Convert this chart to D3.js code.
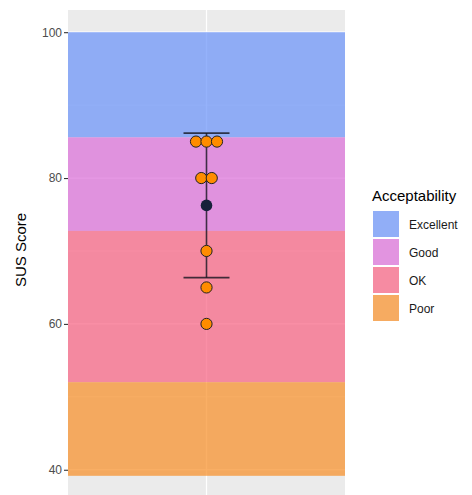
<!DOCTYPE html>
<html>
<head>
<meta charset="utf-8">
<script src="https://cdn.jsdelivr.net/npm/d3@7"></script>
<style>
  body { margin: 0; background: #fff; }
  text { font-family: "Liberation Sans", Arial, sans-serif; }
</style>
</head>
<body>
<script>
// data
var scores = [85, 85, 85, 80, 80, 70, 65, 60];
var bandNames = ["Excellent", "Good", "OK", "Poor"];
var bandTop = [100, 85.58, 72.75, 52.01];
var bandBottom = [85.58, 72.75, 52.01, 39.17];
var bandColors = ["#6892f9", "#db6cd8", "#f86080", "#f88d24"];
var yTicks = [40, 60, 80, 100];
var yMinor = [50, 70, 90];

var svgWidth = 472;
var svgHeight = 495;

var margin = { top: 10, right: 127, bottom: -3, left: 68 };
var chartWidth = svgWidth - margin.left - margin.right;
var chartHeight = svgHeight - margin.top - margin.bottom;

var svg = d3.select("body")
    .append("svg")
    .attr("width", svgWidth)
    .attr("height", svgHeight);

var chartGroup = svg.append("g")
    .attr("transform", `translate(${margin.left}, ${margin.top})`);

// ggplot style 5% expansion
var lo = d3.min(bandBottom), hi = d3.max(bandTop);
var pad = (hi - lo) * 0.05;

var yScale = d3.scaleLinear()
    .domain([lo - pad, hi + pad])
    .range([chartHeight, 0]);

var xScale = d3.scaleLinear()
    .domain([0.4, 1.6])
    .range([0, chartWidth]);

// panel
chartGroup.append("rect")
    .attr("width", chartWidth)
    .attr("height", chartHeight)
    .attr("fill", "#ebebeb");

chartGroup.selectAll(".minor")
    .data(yMinor)
    .enter().append("line")
    .attr("x1", 0).attr("x2", chartWidth)
    .attr("y1", d => yScale(d)).attr("y2", d => yScale(d))
    .attr("stroke", "#fff").attr("stroke-width", 0.6);

chartGroup.selectAll(".major")
    .data(yTicks)
    .enter().append("line")
    .attr("x1", 0).attr("x2", chartWidth)
    .attr("y1", d => yScale(d)).attr("y2", d => yScale(d))
    .attr("stroke", "#fff").attr("stroke-width", 1.2);

chartGroup.append("line")
    .attr("x1", xScale(1)).attr("x2", xScale(1))
    .attr("y1", 0).attr("y2", chartHeight)
    .attr("stroke", "#fff").attr("stroke-width", 1.2);

// acceptability bands
chartGroup.selectAll(".band")
    .data(bandNames)
    .enter().append("rect")
    .attr("x", 0)
    .attr("width", chartWidth)
    .attr("y", (d, i) => yScale(bandTop[i]))
    .attr("height", (d, i) => yScale(bandBottom[i]) - yScale(bandTop[i]))
    .attr("fill", (d, i) => bandColors[i])
    .attr("fill-opacity", 0.7);

// mean and sd
var mean = d3.mean(scores);
var sd = d3.deviation(scores);
var cx = xScale(1);
var ebColor = "rgba(20,20,30,0.8)";

chartGroup.append("line")
    .attr("x1", cx).attr("x2", cx)
    .attr("y1", yScale(mean + sd)).attr("y2", yScale(mean - sd))
    .attr("stroke", ebColor).attr("stroke-width", 1.6);

[mean + sd, mean - sd].forEach(function(v) {
    chartGroup.append("line")
        .attr("x1", cx - 23).attr("x2", cx + 23)
        .attr("y1", yScale(v)).attr("y2", yScale(v))
        .attr("stroke", ebColor).attr("stroke-width", 1.6);
});

// dots, centred side by side when values tie
var r = 5.6, step = 10.5;
var groups = d3.group(scores, d => d);
var dots = [];
groups.forEach(function(vals, v) {
    vals.forEach(function(_, i) {
        dots.push({ value: v, off: (i - (vals.length - 1) / 2) * step });
    });
});

chartGroup.selectAll(".dot")
    .data(dots)
    .enter().append("circle")
    .attr("cx", d => cx + d.off)
    .attr("cy", d => yScale(d.value))
    .attr("r", r)
    .attr("fill", "#ff8c00")
    .attr("stroke", "#222")
    .attr("stroke-width", 1);

chartGroup.append("circle")
    .attr("cx", cx)
    .attr("cy", yScale(mean))
    .attr("r", 5.8)
    .attr("fill", "#16213a");

// y axis
var leftAxis = d3.axisLeft(yScale)
    .tickValues(yTicks)
    .tickSize(4)
    .tickPadding(2);

var axisG = chartGroup.append("g").call(leftAxis);
axisG.select(".domain").remove();
axisG.selectAll("line").attr("stroke", "#333").attr("stroke-width", 1.1);
axisG.selectAll("text")
    .attr("fill", "#4d4d4d")
    .style("font-size", "12px");

svg.append("text")
    .attr("transform", `translate(26, ${margin.top + chartHeight / 2 - 4}) rotate(-90)`)
    .attr("text-anchor", "middle")
    .attr("fill", "#000")
    .style("font-size", "15px")
    .text("SUS Score");

// legend
var legend = svg.append("g")
    .attr("transform", "translate(372, 0)");

legend.append("text")
    .attr("x", 0).attr("y", 201)
    .style("font-size", "15px")
    .attr("fill", "#000")
    .text("Acceptability");

var keys = legend.selectAll(".key")
    .data(bandNames)
    .enter().append("g")
    .attr("transform", (d, i) => `translate(0, ${210 + i * 28})`);

keys.append("rect")
    .attr("x", 0.5).attr("y", 0.5)
    .attr("width", 27).attr("height", 27)
    .attr("fill", "#f2f2f2")
    .attr("stroke", "#fff");

keys.append("rect")
    .attr("x", 0.5).attr("y", 0.5)
    .attr("width", 27).attr("height", 27)
    .attr("fill", (d, i) => bandColors[i])
    .attr("fill-opacity", 0.7)
    .attr("stroke", "#fff");

keys.append("text")
    .attr("x", 37)
    .attr("y", 18.5)
    .style("font-size", "12px")
    .attr("fill", "#1a1a1a")
    .text(d => d);
</script>
</body>
</html>
